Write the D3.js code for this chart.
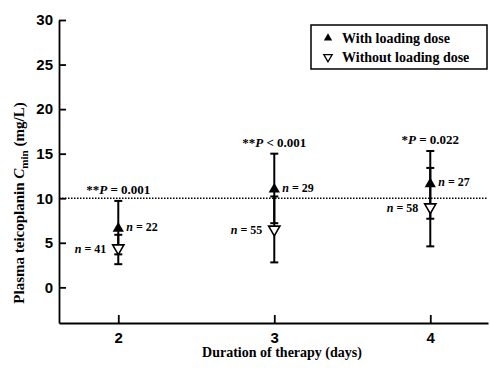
<!DOCTYPE html>
<html>
<head>
<meta charset="utf-8">
<script src="https://cdn.jsdelivr.net/npm/d3@7"></script>
<style>
  body { margin: 0; background: #fff; }
  svg { font-family: "Liberation Serif", "DejaVu Serif", serif; font-weight: bold; }
  .axis path, .axis line { stroke: #000; stroke-width: 1.8; }
  .axis text { font-size: 15px; font-weight: bold; fill: #000; }
</style>
</head>
<body>
<svg width="490" height="370"></svg>
<script>
const days = [2, 3, 4];
const withMean = [6.6, 11.0, 11.6];
const withLow = [3.7, 7.2, 7.7];
const withHigh = [9.7, 15.0, 15.3];
const withoutMean = [4.4, 6.5, 9.0];
const withoutLow = [2.6, 2.8, 4.6];
const withoutHigh = [5.9, 10.2, 13.4];
const withN = [22, 29, 27];
const withoutN = [41, 55, 58];
const pStars = ["**", "**", "*"];
const pText = [" = 0.001", " < 0.001", " = 0.022"];
const yTicks = [0, 5, 10, 15, 20, 25, 30];
const refValue = 10;

const svg = d3.select("svg");

const x = d3.scaleLinear().domain([1.62, 4.37]).range([59, 488]);
const y = d3.scaleLinear().domain([-4, 30]).range([323, 20]);

// axes (ticks point inward)
svg.append("g")
  .attr("class", "axis")
  .attr("transform", `translate(0,${y(-4)})`)
  .call(d3.axisBottom(x).tickValues(days).tickSize(-8).tickPadding(9).tickSizeOuter(0).tickFormat(d3.format("d")));

svg.append("g")
  .attr("class", "axis")
  .attr("transform", `translate(${x(1.62)},0)`)
  .call(d3.axisLeft(y).tickValues(yTicks).tickSize(-7).tickPadding(6).tickSizeOuter(0));

// reference line at 10 mg/L
svg.append("line")
  .attr("x1", x(1.62)).attr("x2", x(4.37))
  .attr("y1", y(refValue)).attr("y2", y(refValue))
  .attr("stroke", "#000").attr("stroke-width", 1.3)
  .attr("stroke-dasharray", "1.5,1.5");

// error bars
function bars(mean, low, high) {
  const g = svg.append("g");
  days.forEach((d, i) => {
    g.append("line")
      .attr("x1", x(d)).attr("x2", x(d))
      .attr("y1", y(low[i])).attr("y2", y(high[i]))
      .attr("stroke", "#000").attr("stroke-width", 2);
    [low[i], high[i]].forEach(v => {
      g.append("line")
        .attr("x1", x(d) - 4).attr("x2", x(d) + 4)
        .attr("y1", y(v)).attr("y2", y(v))
        .attr("stroke", "#000").attr("stroke-width", 2);
    });
  });
}
bars(withMean, withLow, withHigh);
bars(withoutMean, withoutLow, withoutHigh);

const tri = d3.symbol().type(d3.symbolTriangle).size(55);

svg.selectAll(".with")
  .data(days)
  .enter()
  .append("path")
  .attr("transform", (d, i) => `translate(${x(d)},${y(withMean[i])})`)
  .attr("d", tri)
  .attr("fill", "#000");

svg.selectAll(".without")
  .data(days)
  .enter()
  .append("path")
  .attr("transform", (d, i) => `translate(${x(d)},${y(withoutMean[i])}) rotate(180)`)
  .attr("d", tri)
  .attr("fill", "#fff")
  .attr("stroke", "#000")
  .attr("stroke-width", 1.6);

// n labels
function nLabel(xPos, yPos, n, anchor) {
  const t = svg.append("text")
    .attr("x", xPos).attr("y", yPos + 4.5)
    .attr("text-anchor", anchor)
    .style("font-size", "12px");
  t.append("tspan").style("font-style", "italic").text("n");
  t.append("tspan").text(" = " + n);
}
days.forEach((d, i) => {
  nLabel(x(d) + 8, y(withMean[i]) - 2, withN[i], "start");
  nLabel(x(d) - 12, y(withoutMean[i]), withoutN[i], "end");
});

// P value labels
days.forEach((d, i) => {
  const t = svg.append("text")
    .attr("x", x(d)).attr("y", y(withHigh[i]) - 7)
    .attr("text-anchor", "middle")
    .style("font-size", "13px");
  t.append("tspan").text(pStars[i]);
  t.append("tspan").style("font-style", "italic").text("P");
  t.append("tspan").text(pText[i]);
});

// axis titles
svg.append("text")
  .attr("x", 282).attr("y", 357)
  .attr("text-anchor", "middle")
  .style("font-size", "14px")
  .text("Duration of therapy (days)");

const yt = svg.append("text")
  .attr("transform", "translate(24,203) rotate(-90)")
  .attr("text-anchor", "middle")
  .style("font-size", "15px");
yt.append("tspan").text("Plasma teicoplanin ");
yt.append("tspan").style("font-style", "italic").text("C");
yt.append("tspan").attr("dy", 4).style("font-size", "11px").text("min");
yt.append("tspan").attr("dy", -4).text(" (mg/L)");

// legend
const legend = svg.append("g");
legend.append("rect")
  .attr("x", 311).attr("y", 25).attr("width", 176).attr("height", 44)
  .attr("fill", "#fff").attr("stroke", "#000").attr("stroke-width", 1.5);
const legendItems = ["With loading dose", "Without loading dose"];
legendItems.forEach((label, i) => {
  const ly = 38 + i * 19;
  legend.append("path")
    .attr("transform", `translate(328,${ly})` + (i ? " rotate(180)" : ""))
    .attr("d", d3.symbol().type(d3.symbolTriangle).size(30))
    .attr("fill", i ? "#fff" : "#000")
    .attr("stroke", "#000").attr("stroke-width", i ? 1.3 : 0);
  legend.append("text")
    .attr("x", 342).attr("y", ly + 4.5)
    .style("font-size", "14px")
    .text(label);
});
</script>
</body>
</html>
